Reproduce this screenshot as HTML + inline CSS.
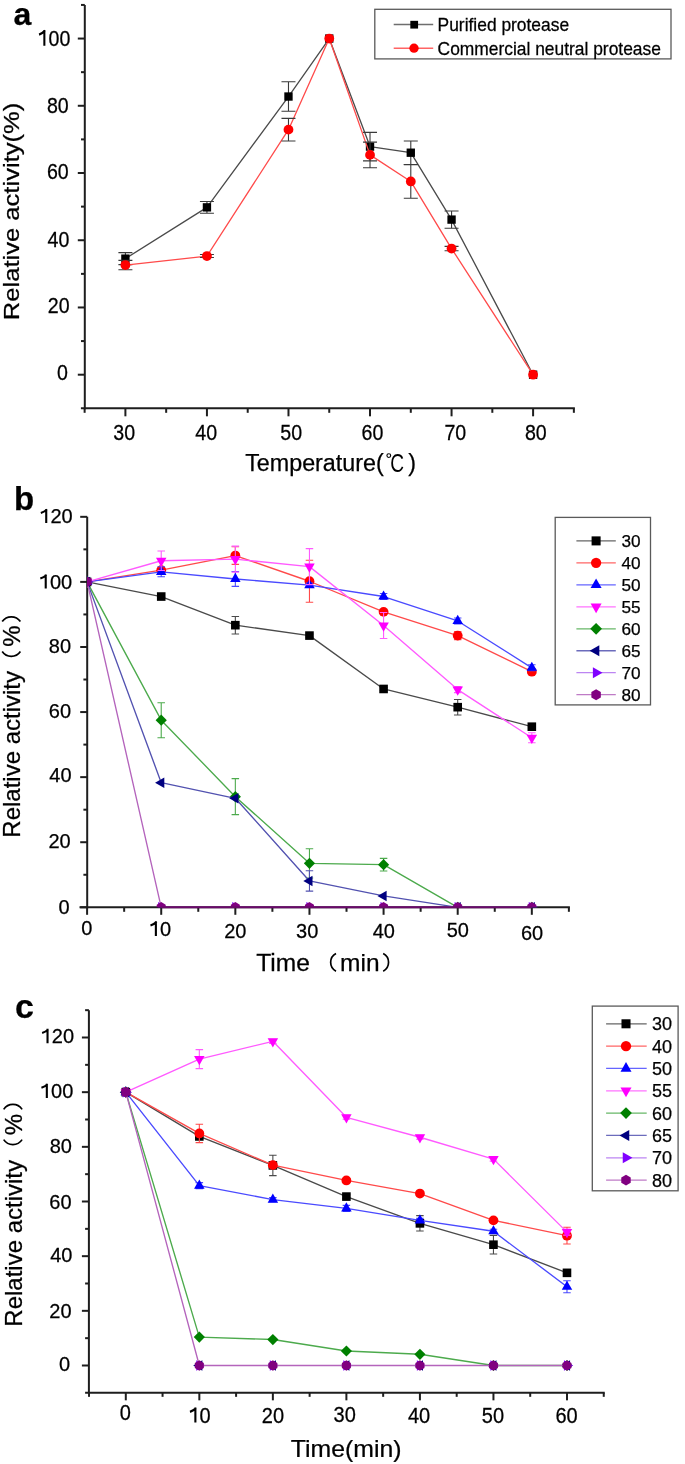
<!DOCTYPE html><html><head><meta charset="utf-8"><style>html,body{margin:0;padding:0;background:#fff;}svg{display:block;will-change:transform;}text{font-family:"Liberation Sans",sans-serif;fill:#000;stroke:#000;stroke-width:0.25px;}</style></head><body>
<svg width="685" height="1464" viewBox="0 0 685 1464">
<rect width="685" height="1464" fill="#fff"/>
<line x1="84.8" y1="4.94" x2="84.8" y2="409.31" stroke="#1e1e1e" stroke-width="2.0"/>
<line x1="80.9" y1="408.31" x2="574.87" y2="408.31" stroke="#1e1e1e" stroke-width="2.0"/>
<line x1="77.8" y1="374.7" x2="84.8" y2="374.7" stroke="#1e1e1e" stroke-width="2.0"/>
<line x1="81" y1="341.08" x2="84.8" y2="341.08" stroke="#1e1e1e" stroke-width="2.0"/>
<line x1="77.8" y1="307.47" x2="84.8" y2="307.47" stroke="#1e1e1e" stroke-width="2.0"/>
<line x1="81" y1="273.86" x2="84.8" y2="273.86" stroke="#1e1e1e" stroke-width="2.0"/>
<line x1="77.8" y1="240.24" x2="84.8" y2="240.24" stroke="#1e1e1e" stroke-width="2.0"/>
<line x1="81" y1="206.62" x2="84.8" y2="206.62" stroke="#1e1e1e" stroke-width="2.0"/>
<line x1="77.8" y1="173.01" x2="84.8" y2="173.01" stroke="#1e1e1e" stroke-width="2.0"/>
<line x1="81" y1="139.39" x2="84.8" y2="139.39" stroke="#1e1e1e" stroke-width="2.0"/>
<line x1="77.8" y1="105.78" x2="84.8" y2="105.78" stroke="#1e1e1e" stroke-width="2.0"/>
<line x1="81" y1="72.17" x2="84.8" y2="72.17" stroke="#1e1e1e" stroke-width="2.0"/>
<line x1="77.8" y1="38.55" x2="84.8" y2="38.55" stroke="#1e1e1e" stroke-width="2.0"/>
<line x1="81" y1="4.94" x2="84.8" y2="4.94" stroke="#1e1e1e" stroke-width="2.0"/>
<line x1="84.63" y1="408.31" x2="84.63" y2="412.81" stroke="#1e1e1e" stroke-width="2.0"/>
<line x1="125.4" y1="408.31" x2="125.4" y2="416.31" stroke="#1e1e1e" stroke-width="2.0"/>
<line x1="166.17" y1="408.31" x2="166.17" y2="412.81" stroke="#1e1e1e" stroke-width="2.0"/>
<line x1="206.94" y1="408.31" x2="206.94" y2="416.31" stroke="#1e1e1e" stroke-width="2.0"/>
<line x1="247.71" y1="408.31" x2="247.71" y2="412.81" stroke="#1e1e1e" stroke-width="2.0"/>
<line x1="288.48" y1="408.31" x2="288.48" y2="416.31" stroke="#1e1e1e" stroke-width="2.0"/>
<line x1="329.25" y1="408.31" x2="329.25" y2="412.81" stroke="#1e1e1e" stroke-width="2.0"/>
<line x1="370.02" y1="408.31" x2="370.02" y2="416.31" stroke="#1e1e1e" stroke-width="2.0"/>
<line x1="410.79" y1="408.31" x2="410.79" y2="412.81" stroke="#1e1e1e" stroke-width="2.0"/>
<line x1="451.56" y1="408.31" x2="451.56" y2="416.31" stroke="#1e1e1e" stroke-width="2.0"/>
<line x1="492.33" y1="408.31" x2="492.33" y2="412.81" stroke="#1e1e1e" stroke-width="2.0"/>
<line x1="533.1" y1="408.31" x2="533.1" y2="416.31" stroke="#1e1e1e" stroke-width="2.0"/>
<line x1="573.87" y1="408.31" x2="573.87" y2="412.81" stroke="#1e1e1e" stroke-width="2.0"/>
<g transform="translate(68,380.15) scale(0.98,1.12)"><text x="-11.12" y="0" font-size="20">0</text></g>
<g transform="translate(69.6,312.7) scale(0.98,1.12)"><text x="-22.25" y="0" font-size="20">2</text><text x="-11.12" y="0" font-size="20">0</text></g>
<g transform="translate(69.4,247.15) scale(0.98,1.12)"><text x="-22.25" y="0" font-size="20">4</text><text x="-11.12" y="0" font-size="20">0</text></g>
<g transform="translate(68.7,178.9) scale(0.98,1.12)"><text x="-22.25" y="0" font-size="20">6</text><text x="-11.12" y="0" font-size="20">0</text></g>
<g transform="translate(68.7,112.9) scale(0.98,1.12)"><text x="-22.25" y="0" font-size="20">8</text><text x="-11.12" y="0" font-size="20">0</text></g>
<g transform="translate(70.3,45.8) scale(0.98,1.12)"><path d="M-26.47,0V-14.1M-25.77,-13.5Q-28.27,-11.2 -31.87,-10" fill="none" stroke="#000" stroke-width="2.1" stroke-linecap="butt"/><text x="-22.25" y="0" font-size="20">0</text><text x="-11.12" y="0" font-size="20">0</text></g>
<g transform="translate(124.2,439.7) scale(0.98,1.12)"><text x="-11.12" y="0" font-size="20">3</text><text x="0" y="0" font-size="20">0</text></g>
<g transform="translate(206.2,439.7) scale(0.98,1.12)"><text x="-11.12" y="0" font-size="20">4</text><text x="0" y="0" font-size="20">0</text></g>
<g transform="translate(291.2,439.7) scale(0.98,1.12)"><text x="-11.12" y="0" font-size="20">5</text><text x="0" y="0" font-size="20">0</text></g>
<g transform="translate(372.5,439.7) scale(0.98,1.12)"><text x="-11.12" y="0" font-size="20">6</text><text x="0" y="0" font-size="20">0</text></g>
<g transform="translate(455.3,439.7) scale(0.98,1.12)"><text x="-11.12" y="0" font-size="20">7</text><text x="0" y="0" font-size="20">0</text></g>
<g transform="translate(535.8,439.7) scale(0.98,1.12)"><text x="-11.12" y="0" font-size="20">8</text><text x="0" y="0" font-size="20">0</text></g>
<text x="22.5" y="24.6" font-size="32" text-anchor="middle" font-weight="bold" >a</text>
<text transform="translate(18.6,320.2) rotate(-90)" font-size="22.3" textLength="217.5" lengthAdjust="spacingAndGlyphs">Relative activity(%)</text>
<text x="245.2" y="471" font-size="23.3">Temperature(</text>
<circle cx="388.8" cy="455.6" r="1.9" fill="none" stroke="#000" stroke-width="1.1"/>
<text transform="translate(390.2,471.5) scale(0.78,1.05)" font-size="24.5" text-anchor="start" font-weight="normal" style="stroke-width:0">C</text>
<text x="408.2" y="471" font-size="23.3" text-anchor="start" font-weight="normal" >)</text>
<g><polyline points="125.4,258.63 206.94,207.36 288.48,96.54 329.25,38.55 370.02,146.59 410.79,152.71 451.56,219.6 533.1,374.7" fill="none" stroke="#4a4a4a" stroke-width="1.3" stroke-linejoin="round"/><path d="M125.4 252.63V264.63M118.4 252.63H132.4M118.4 264.63H132.4" stroke="#3a3a3a" stroke-width="1.1" fill="none"/><path d="M206.94 201.51V213.21M199.94 201.51H213.94M199.94 213.21H213.94" stroke="#3a3a3a" stroke-width="1.1" fill="none"/><path d="M288.48 81.79V111.29M281.48 81.79H295.48M281.48 111.29H295.48" stroke="#3a3a3a" stroke-width="1.1" fill="none"/><path d="M370.02 132.34V160.84M363.02 132.34H377.02M363.02 160.84H377.02" stroke="#3a3a3a" stroke-width="1.1" fill="none"/><path d="M410.79 140.96V164.46M403.79 140.96H417.79M403.79 164.46H417.79" stroke="#3a3a3a" stroke-width="1.1" fill="none"/><path d="M451.56 211V228.2M444.56 211H458.56M444.56 228.2H458.56" stroke="#3a3a3a" stroke-width="1.1" fill="none"/><rect x="121.23" y="254.46" width="8.34" height="8.34" fill="#000000"/><rect x="202.77" y="203.19" width="8.34" height="8.34" fill="#000000"/><rect x="284.31" y="92.36" width="8.34" height="8.34" fill="#000000"/><rect x="325.08" y="34.38" width="8.34" height="8.34" fill="#000000"/><rect x="365.85" y="142.42" width="8.34" height="8.34" fill="#000000"/><rect x="406.62" y="148.54" width="8.34" height="8.34" fill="#000000"/><rect x="447.39" y="215.43" width="8.34" height="8.34" fill="#000000"/><rect x="528.93" y="370.53" width="8.34" height="8.34" fill="#000000"/></g>
<g><polyline points="125.4,265.05 206.94,256.04 288.48,129.65 329.25,38.55 370.02,154.89 410.79,181.45 451.56,248.54 533.1,374.7" fill="none" stroke="#ff4a4a" stroke-width="1.3" stroke-linejoin="round"/><path d="M125.4 260.35V269.75M118.4 260.35H132.4M118.4 269.75H132.4" stroke="#3a3a3a" stroke-width="1.1" fill="none"/><path d="M206.94 254.54V257.54M199.94 254.54H213.94M199.94 257.54H213.94" stroke="#3a3a3a" stroke-width="1.1" fill="none"/><path d="M288.48 118.35V140.95M281.48 118.35H295.48M281.48 140.95H295.48" stroke="#3a3a3a" stroke-width="1.1" fill="none"/><path d="M370.02 142.09V167.69M363.02 142.09H377.02M363.02 167.69H377.02" stroke="#3a3a3a" stroke-width="1.1" fill="none"/><path d="M410.79 164.6V198.3M403.79 164.6H417.79M403.79 198.3H417.79" stroke="#3a3a3a" stroke-width="1.1" fill="none"/><path d="M451.56 246.34V250.74M444.56 246.34H458.56M444.56 250.74H458.56" stroke="#3a3a3a" stroke-width="1.1" fill="none"/><circle cx="125.4" cy="265.05" r="4.9" fill="#ff0000"/><circle cx="206.94" cy="256.04" r="4.9" fill="#ff0000"/><circle cx="288.48" cy="129.65" r="4.9" fill="#ff0000"/><circle cx="329.25" cy="38.55" r="4.9" fill="#ff0000"/><circle cx="370.02" cy="154.89" r="4.9" fill="#ff0000"/><circle cx="410.79" cy="181.45" r="4.9" fill="#ff0000"/><circle cx="451.56" cy="248.54" r="4.9" fill="#ff0000"/><circle cx="533.1" cy="374.7" r="4.9" fill="#ff0000"/></g>
<rect x="374.8" y="9.3" width="296.2" height="49.6" fill="none" stroke="#5a5a5a" stroke-width="1.3"/>
<line x1="393.7" y1="24.5" x2="433.2" y2="24.5" stroke="#6e6e6e" stroke-width="1.5"/><rect x="410.33" y="20.83" width="7.74" height="7.74" fill="#000"/>
<line x1="393.7" y1="48.3" x2="433.2" y2="48.3" stroke="#ff6464" stroke-width="1.5"/><circle cx="414" cy="48.2" r="4.66" fill="#f00"/>
<text transform="translate(437.6,30.6) scale(1,1.1)" font-size="17.4" text-anchor="start" font-weight="normal" >Purified protease</text>
<text transform="translate(437.6,54.6) scale(1,1.1)" font-size="17.4" text-anchor="start" font-weight="normal" >Commercial neutral protease</text>
<line x1="87.2" y1="516.82" x2="87.2" y2="908.3" stroke="#1e1e1e" stroke-width="2.0"/>
<line x1="79.5" y1="907.3" x2="569.88" y2="907.3" stroke="#1e1e1e" stroke-width="2.0"/>
<line x1="80.2" y1="907.3" x2="87.2" y2="907.3" stroke="#1e1e1e" stroke-width="2.0"/>
<line x1="83.4" y1="874.76" x2="87.2" y2="874.76" stroke="#1e1e1e" stroke-width="2.0"/>
<line x1="80.2" y1="842.22" x2="87.2" y2="842.22" stroke="#1e1e1e" stroke-width="2.0"/>
<line x1="83.4" y1="809.68" x2="87.2" y2="809.68" stroke="#1e1e1e" stroke-width="2.0"/>
<line x1="80.2" y1="777.14" x2="87.2" y2="777.14" stroke="#1e1e1e" stroke-width="2.0"/>
<line x1="83.4" y1="744.6" x2="87.2" y2="744.6" stroke="#1e1e1e" stroke-width="2.0"/>
<line x1="80.2" y1="712.06" x2="87.2" y2="712.06" stroke="#1e1e1e" stroke-width="2.0"/>
<line x1="83.4" y1="679.52" x2="87.2" y2="679.52" stroke="#1e1e1e" stroke-width="2.0"/>
<line x1="80.2" y1="646.98" x2="87.2" y2="646.98" stroke="#1e1e1e" stroke-width="2.0"/>
<line x1="83.4" y1="614.44" x2="87.2" y2="614.44" stroke="#1e1e1e" stroke-width="2.0"/>
<line x1="80.2" y1="581.9" x2="87.2" y2="581.9" stroke="#1e1e1e" stroke-width="2.0"/>
<line x1="83.4" y1="549.36" x2="87.2" y2="549.36" stroke="#1e1e1e" stroke-width="2.0"/>
<line x1="80.2" y1="516.82" x2="87.2" y2="516.82" stroke="#1e1e1e" stroke-width="2.0"/>
<line x1="87.1" y1="907.3" x2="87.1" y2="914.8" stroke="#1e1e1e" stroke-width="2.0"/>
<line x1="124.16" y1="907.3" x2="124.16" y2="911.8" stroke="#1e1e1e" stroke-width="2.0"/>
<line x1="161.22" y1="907.3" x2="161.22" y2="914.8" stroke="#1e1e1e" stroke-width="2.0"/>
<line x1="198.28" y1="907.3" x2="198.28" y2="911.8" stroke="#1e1e1e" stroke-width="2.0"/>
<line x1="235.34" y1="907.3" x2="235.34" y2="914.8" stroke="#1e1e1e" stroke-width="2.0"/>
<line x1="272.4" y1="907.3" x2="272.4" y2="911.8" stroke="#1e1e1e" stroke-width="2.0"/>
<line x1="309.46" y1="907.3" x2="309.46" y2="914.8" stroke="#1e1e1e" stroke-width="2.0"/>
<line x1="346.52" y1="907.3" x2="346.52" y2="911.8" stroke="#1e1e1e" stroke-width="2.0"/>
<line x1="383.58" y1="907.3" x2="383.58" y2="914.8" stroke="#1e1e1e" stroke-width="2.0"/>
<line x1="420.64" y1="907.3" x2="420.64" y2="911.8" stroke="#1e1e1e" stroke-width="2.0"/>
<line x1="457.7" y1="907.3" x2="457.7" y2="914.8" stroke="#1e1e1e" stroke-width="2.0"/>
<line x1="494.76" y1="907.3" x2="494.76" y2="911.8" stroke="#1e1e1e" stroke-width="2.0"/>
<line x1="531.82" y1="907.3" x2="531.82" y2="914.8" stroke="#1e1e1e" stroke-width="2.0"/>
<line x1="568.88" y1="907.3" x2="568.88" y2="911.8" stroke="#1e1e1e" stroke-width="2.0"/>
<g transform="translate(69.6,913.7) scale(1,1)"><text x="-11.12" y="0" font-size="20">0</text></g>
<g transform="translate(70.7,847.52) scale(1,1)"><text x="-22.25" y="0" font-size="20">2</text><text x="-11.12" y="0" font-size="20">0</text></g>
<g transform="translate(71.6,782.24) scale(1,1)"><text x="-22.25" y="0" font-size="20">4</text><text x="-11.12" y="0" font-size="20">0</text></g>
<g transform="translate(71,718.26) scale(1,1)"><text x="-22.25" y="0" font-size="20">6</text><text x="-11.12" y="0" font-size="20">0</text></g>
<g transform="translate(71,652.98) scale(1,1)"><text x="-22.25" y="0" font-size="20">8</text><text x="-11.12" y="0" font-size="20">0</text></g>
<g transform="translate(72.2,588.55) scale(1,1)"><path d="M-26.47,0V-14.1M-25.77,-13.5Q-28.27,-11.2 -31.87,-10" fill="none" stroke="#000" stroke-width="2.1" stroke-linecap="butt"/><text x="-22.25" y="0" font-size="20">0</text><text x="-11.12" y="0" font-size="20">0</text></g>
<g transform="translate(72.7,523.02) scale(1,1)"><path d="M-26.47,0V-14.1M-25.77,-13.5Q-28.27,-11.2 -31.87,-10" fill="none" stroke="#000" stroke-width="2.1" stroke-linecap="butt"/><text x="-22.25" y="0" font-size="20">2</text><text x="-11.12" y="0" font-size="20">0</text></g>
<g transform="translate(86.9,934.6) scale(1,1.04)"><text x="-5.56" y="0" font-size="20">0</text></g>
<g transform="translate(160.1,935.9) scale(1,1.04)"><path d="M-4.22,0V-14.1M-3.52,-13.5Q-6.02,-11.2 -9.62,-10" fill="none" stroke="#000" stroke-width="2.1" stroke-linecap="butt"/><text x="0" y="0" font-size="20">0</text></g>
<g transform="translate(235.3,937.7) scale(1,1.04)"><text x="-11.12" y="0" font-size="20">2</text><text x="0" y="0" font-size="20">0</text></g>
<g transform="translate(307.2,937.5) scale(1,1.04)"><text x="-11.12" y="0" font-size="20">3</text><text x="0" y="0" font-size="20">0</text></g>
<g transform="translate(383.8,937.7) scale(1,1.04)"><text x="-11.12" y="0" font-size="20">4</text><text x="0" y="0" font-size="20">0</text></g>
<g transform="translate(457.8,937.4) scale(1,1.04)"><text x="-11.12" y="0" font-size="20">5</text><text x="0" y="0" font-size="20">0</text></g>
<g transform="translate(532,940) scale(1,1.04)"><text x="-11.12" y="0" font-size="20">6</text><text x="0" y="0" font-size="20">0</text></g>
<text x="24" y="509.8" font-size="33" text-anchor="middle" font-weight="bold" >b</text>
<g transform="translate(20.3,837.7) rotate(-90)" font-size="24"><text x="0" y="0">Relative activity</text><text x="190.9" y="0">%</text></g>
<path d="M2.2,651.6A11,11 0 0 0 20.4,651.6M2.2,621.6A11,11 0 0 1 20.4,621.6" fill="none" stroke="#000" stroke-width="1.7"/>
<text transform="translate(256.3,971) scale(1.052,1)" font-size="23.3">Time</text>
<text x="340.1" y="971" font-size="24.5">min</text>
<path d="M336,953.5A10,10 0 0 0 336,971.2M383.2,953.5A10,10 0 0 1 383.2,971.2" fill="none" stroke="#000" stroke-width="1.7"/>
<clipPath id="cb"><rect x="87" y="500" width="500" height="407.3"/></clipPath>
<g clip-path="url(#cb)"><polyline points="87.1,581.9 161.22,596.54 235.34,625.18 309.46,635.59 383.58,688.96 457.7,707.18 531.82,726.7" fill="none" stroke="#4a4a4a" stroke-width="1.35" stroke-linejoin="round"/><path d="M161.22 595.04V598.04M157.47 595.04H164.97M157.47 598.04H164.97" stroke="#4a4a4a" stroke-width="1.1" fill="none"/><path d="M235.34 616.43V633.93M231.59 616.43H239.09M231.59 633.93H239.09" stroke="#4a4a4a" stroke-width="1.1" fill="none"/><path d="M309.46 634.09V637.09M305.71 634.09H313.21M305.71 637.09H313.21" stroke="#4a4a4a" stroke-width="1.1" fill="none"/><path d="M383.58 687.46V690.46M379.83 687.46H387.33M379.83 690.46H387.33" stroke="#4a4a4a" stroke-width="1.1" fill="none"/><path d="M457.7 699.43V714.93M453.95 699.43H461.45M453.95 714.93H461.45" stroke="#4a4a4a" stroke-width="1.1" fill="none"/><path d="M531.82 723.7V729.7M528.07 723.7H535.57M528.07 729.7H535.57" stroke="#4a4a4a" stroke-width="1.1" fill="none"/><rect x="82.8" y="577.6" width="8.6" height="8.6" fill="#000000"/><rect x="156.92" y="592.24" width="8.6" height="8.6" fill="#000000"/><rect x="231.04" y="620.88" width="8.6" height="8.6" fill="#000000"/><rect x="305.16" y="631.29" width="8.6" height="8.6" fill="#000000"/><rect x="379.28" y="684.66" width="8.6" height="8.6" fill="#000000"/><rect x="453.4" y="702.88" width="8.6" height="8.6" fill="#000000"/><rect x="527.52" y="722.4" width="8.6" height="8.6" fill="#000000"/></g>
<g clip-path="url(#cb)"><polyline points="87.1,581.9 161.22,570.19 235.34,555.54 309.46,581.25 383.58,611.84 457.7,635.59 531.82,671.71" fill="none" stroke="#ff4a4a" stroke-width="1.35" stroke-linejoin="round"/><path d="M161.22 568.19V572.19M157.47 568.19H164.97M157.47 572.19H164.97" stroke="#ff4a4a" stroke-width="1.1" fill="none"/><path d="M235.34 546.74V564.34M231.59 546.74H239.09M231.59 564.34H239.09" stroke="#ff4a4a" stroke-width="1.1" fill="none"/><path d="M309.46 560.25V602.25M305.71 560.25H313.21M305.71 602.25H313.21" stroke="#ff4a4a" stroke-width="1.1" fill="none"/><path d="M383.58 609.84V613.84M379.83 609.84H387.33M379.83 613.84H387.33" stroke="#ff4a4a" stroke-width="1.1" fill="none"/><path d="M457.7 631.59V639.59M453.95 631.59H461.45M453.95 639.59H461.45" stroke="#ff4a4a" stroke-width="1.1" fill="none"/><path d="M531.82 669.71V673.71M528.07 669.71H535.57M528.07 673.71H535.57" stroke="#ff4a4a" stroke-width="1.1" fill="none"/><circle cx="87.1" cy="581.9" r="4.9" fill="#ff0000"/><circle cx="161.22" cy="570.19" r="4.9" fill="#ff0000"/><circle cx="235.34" cy="555.54" r="4.9" fill="#ff0000"/><circle cx="309.46" cy="581.25" r="4.9" fill="#ff0000"/><circle cx="383.58" cy="611.84" r="4.9" fill="#ff0000"/><circle cx="457.7" cy="635.59" r="4.9" fill="#ff0000"/><circle cx="531.82" cy="671.71" r="4.9" fill="#ff0000"/></g>
<g clip-path="url(#cb)"><polyline points="87.1,581.9 161.22,571.81 235.34,578.97 309.46,585.15 383.58,596.54 457.7,620.95 531.82,667.81" fill="none" stroke="#4a4aff" stroke-width="1.35" stroke-linejoin="round"/><path d="M161.22 566.81V576.81M157.47 566.81H164.97M157.47 576.81H164.97" stroke="#4a4aff" stroke-width="1.1" fill="none"/><path d="M235.34 571.57V586.37M231.59 571.57H239.09M231.59 586.37H239.09" stroke="#4a4aff" stroke-width="1.1" fill="none"/><path d="M309.46 583.15V587.15M305.71 583.15H313.21M305.71 587.15H313.21" stroke="#4a4aff" stroke-width="1.1" fill="none"/><path d="M383.58 593.54V599.54M379.83 593.54H387.33M379.83 599.54H387.33" stroke="#4a4aff" stroke-width="1.1" fill="none"/><path d="M457.7 617.95V623.95M453.95 617.95H461.45M453.95 623.95H461.45" stroke="#4a4aff" stroke-width="1.1" fill="none"/><path d="M531.82 664.81V670.81M528.07 664.81H535.57M528.07 670.81H535.57" stroke="#4a4aff" stroke-width="1.1" fill="none"/><polygon points="87.1,575.77 92.35,584.97 81.85,584.97" fill="#0000ff"/><polygon points="161.22,565.68 166.47,574.88 155.97,574.88" fill="#0000ff"/><polygon points="235.34,572.84 240.59,582.04 230.09,582.04" fill="#0000ff"/><polygon points="309.46,579.02 314.71,588.22 304.21,588.22" fill="#0000ff"/><polygon points="383.58,590.41 388.83,599.61 378.33,599.61" fill="#0000ff"/><polygon points="457.7,614.81 462.95,624.01 452.45,624.01" fill="#0000ff"/><polygon points="531.82,661.67 537.07,670.87 526.57,670.87" fill="#0000ff"/></g>
<g clip-path="url(#cb)"><polyline points="87.1,581.9 161.22,560.75 235.34,559.12 309.46,566.61 383.58,625.5 457.7,689.61 531.82,737.77" fill="none" stroke="#ff5aff" stroke-width="1.35" stroke-linejoin="round"/><path d="M161.22 551.05V570.45M157.47 551.05H164.97M157.47 570.45H164.97" stroke="#ff5aff" stroke-width="1.1" fill="none"/><path d="M235.34 546.12V572.12M231.59 546.12H239.09M231.59 572.12H239.09" stroke="#ff5aff" stroke-width="1.1" fill="none"/><path d="M309.46 548.61V584.61M305.71 548.61H313.21M305.71 584.61H313.21" stroke="#ff5aff" stroke-width="1.1" fill="none"/><path d="M383.58 612.5V638.5M379.83 612.5H387.33M379.83 638.5H387.33" stroke="#ff5aff" stroke-width="1.1" fill="none"/><path d="M457.7 686.61V692.61M453.95 686.61H461.45M453.95 692.61H461.45" stroke="#ff5aff" stroke-width="1.1" fill="none"/><path d="M531.82 732.77V742.77M528.07 732.77H535.57M528.07 742.77H535.57" stroke="#ff5aff" stroke-width="1.1" fill="none"/><polygon points="87.1,588.03 92.35,578.83 81.85,578.83" fill="#ff00ff"/><polygon points="161.22,566.88 166.47,557.68 155.97,557.68" fill="#ff00ff"/><polygon points="235.34,565.26 240.59,556.06 230.09,556.06" fill="#ff00ff"/><polygon points="309.46,572.74 314.71,563.54 304.21,563.54" fill="#ff00ff"/><polygon points="383.58,631.64 388.83,622.44 378.33,622.44" fill="#ff00ff"/><polygon points="457.7,695.74 462.95,686.54 452.45,686.54" fill="#ff00ff"/><polygon points="531.82,743.9 537.07,734.7 526.57,734.7" fill="#ff00ff"/></g>
<g clip-path="url(#cb)"><polyline points="87.1,581.9 161.22,720.19 235.34,796.66 309.46,863.37 383.58,864.67 457.7,907.3 531.82,907.3" fill="none" stroke="#4caa4c" stroke-width="1.35" stroke-linejoin="round"/><path d="M161.22 702.69V737.69M157.47 702.69H164.97M157.47 737.69H164.97" stroke="#4caa4c" stroke-width="1.1" fill="none"/><path d="M235.34 778.66V814.66M231.59 778.66H239.09M231.59 814.66H239.09" stroke="#4caa4c" stroke-width="1.1" fill="none"/><path d="M309.46 848.77V877.97M305.71 848.77H313.21M305.71 877.97H313.21" stroke="#4caa4c" stroke-width="1.1" fill="none"/><path d="M383.58 858.37V870.97M379.83 858.37H387.33M379.83 870.97H387.33" stroke="#4caa4c" stroke-width="1.1" fill="none"/><polygon points="87.1,576.3 92.7,581.9 87.1,587.5 81.5,581.9" fill="#008000"/><polygon points="161.22,714.59 166.82,720.19 161.22,725.79 155.62,720.19" fill="#008000"/><polygon points="235.34,791.06 240.94,796.66 235.34,802.26 229.74,796.66" fill="#008000"/><polygon points="309.46,857.77 315.06,863.37 309.46,868.97 303.86,863.37" fill="#008000"/><polygon points="383.58,859.07 389.18,864.67 383.58,870.27 377.98,864.67" fill="#008000"/><polygon points="457.7,901.7 463.3,907.3 457.7,912.9 452.1,907.3" fill="#008000"/><polygon points="531.82,901.7 537.42,907.3 531.82,912.9 526.22,907.3" fill="#008000"/></g>
<g clip-path="url(#cb)"><polyline points="87.1,581.9 161.22,782.67 235.34,798.29 309.46,880.94 383.58,895.91 457.7,907.3 531.82,907.3" fill="none" stroke="#5252b0" stroke-width="1.35" stroke-linejoin="round"/><path d="M309.46 870.74V891.14M305.71 870.74H313.21M305.71 891.14H313.21" stroke="#5252b0" stroke-width="1.1" fill="none"/><polygon points="80.97,581.9 90.17,576.65 90.17,587.15" fill="#000080"/><polygon points="155.09,782.67 164.29,777.42 164.29,787.92" fill="#000080"/><polygon points="229.21,798.29 238.41,793.04 238.41,803.54" fill="#000080"/><polygon points="303.33,880.94 312.53,875.69 312.53,886.19" fill="#000080"/><polygon points="377.45,895.91 386.65,890.66 386.65,901.16" fill="#000080"/><polygon points="451.57,907.3 460.77,902.05 460.77,912.55" fill="#000080"/><polygon points="525.69,907.3 534.89,902.05 534.89,912.55" fill="#000080"/></g>
<g clip-path="url(#cb)"><polygon points="93.23,581.9 84.03,576.65 84.03,587.15" fill="#8000ff"/><polygon points="167.35,907.3 158.15,902.05 158.15,912.55" fill="#8000ff"/><polygon points="241.47,907.3 232.27,902.05 232.27,912.55" fill="#8000ff"/><polygon points="315.59,907.3 306.39,902.05 306.39,912.55" fill="#8000ff"/><polygon points="389.71,907.3 380.51,902.05 380.51,912.55" fill="#8000ff"/><polygon points="463.83,907.3 454.63,902.05 454.63,912.55" fill="#8000ff"/><polygon points="537.95,907.3 528.75,902.05 528.75,912.55" fill="#8000ff"/></g>
<g clip-path="url(#cb)"><polyline points="87.1,581.9 161.22,907.3 235.34,907.3 309.46,907.3 383.58,907.3 457.7,907.3 531.82,907.3" fill="none" stroke="#b464bc" stroke-width="1.35" stroke-linejoin="round"/><polygon points="87.1,576.7 91.6,579.3 91.6,584.5 87.1,587.1 82.6,584.5 82.6,579.3" fill="#800080"/><polygon points="161.22,902.1 165.72,904.7 165.72,909.9 161.22,912.5 156.72,909.9 156.72,904.7" fill="#800080"/><polygon points="235.34,902.1 239.84,904.7 239.84,909.9 235.34,912.5 230.84,909.9 230.84,904.7" fill="#800080"/><polygon points="309.46,902.1 313.96,904.7 313.96,909.9 309.46,912.5 304.96,909.9 304.96,904.7" fill="#800080"/><polygon points="383.58,902.1 388.08,904.7 388.08,909.9 383.58,912.5 379.08,909.9 379.08,904.7" fill="#800080"/><polygon points="457.7,902.1 462.2,904.7 462.2,909.9 457.7,912.5 453.2,909.9 453.2,904.7" fill="#800080"/><polygon points="531.82,902.1 536.32,904.7 536.32,909.9 531.82,912.5 527.32,909.9 527.32,904.7" fill="#800080"/></g>
<line x1="161.22" y1="907.3" x2="531.82" y2="907.3" stroke="#6a0a6a" stroke-width="1.9"/>
<rect x="555.2" y="517.4" width="95.3" height="187.5" fill="none" stroke="#5a5a5a" stroke-width="1.3"/>
<line x1="576.4" y1="540.9" x2="615.8" y2="540.9" stroke="#4a4a4a" stroke-width="1.3" stroke-opacity="0.85"/>
<rect x="591.59" y="536.38" width="9.03" height="9.03" fill="#000000"/>
<text x="621.5" y="547.1" font-size="17.2" text-anchor="start" font-weight="normal" >30</text>
<line x1="576.4" y1="562.87" x2="615.8" y2="562.87" stroke="#ff4a4a" stroke-width="1.3" stroke-opacity="0.85"/>
<circle cx="596.1" cy="562.87" r="5.15" fill="#ff0000"/>
<text x="621.5" y="569.07" font-size="17.2" text-anchor="start" font-weight="normal" >40</text>
<line x1="576.4" y1="584.84" x2="615.8" y2="584.84" stroke="#4a4aff" stroke-width="1.3" stroke-opacity="0.85"/>
<polygon points="596.1,578.4 601.61,588.06 590.59,588.06" fill="#0000ff"/>
<text x="621.5" y="591.04" font-size="17.2" text-anchor="start" font-weight="normal" >50</text>
<line x1="576.4" y1="606.81" x2="615.8" y2="606.81" stroke="#ff5aff" stroke-width="1.3" stroke-opacity="0.85"/>
<polygon points="596.1,613.25 601.61,603.59 590.59,603.59" fill="#ff00ff"/>
<text x="621.5" y="613.01" font-size="17.2" text-anchor="start" font-weight="normal" >55</text>
<line x1="576.4" y1="628.78" x2="615.8" y2="628.78" stroke="#4caa4c" stroke-width="1.3" stroke-opacity="0.85"/>
<polygon points="596.1,622.9 601.98,628.78 596.1,634.66 590.22,628.78" fill="#008000"/>
<text x="621.5" y="634.98" font-size="17.2" text-anchor="start" font-weight="normal" >60</text>
<line x1="576.4" y1="650.75" x2="615.8" y2="650.75" stroke="#5252b0" stroke-width="1.3" stroke-opacity="0.85"/>
<polygon points="589.66,650.75 599.32,645.24 599.32,656.26" fill="#000080"/>
<text x="621.5" y="656.95" font-size="17.2" text-anchor="start" font-weight="normal" >65</text>
<line x1="576.4" y1="672.72" x2="615.8" y2="672.72" stroke="#b070f0" stroke-width="1.3" stroke-opacity="0.85"/>
<polygon points="602.54,672.72 592.88,667.21 592.88,678.23" fill="#8000ff"/>
<text x="621.5" y="678.92" font-size="17.2" text-anchor="start" font-weight="normal" >70</text>
<line x1="576.4" y1="694.69" x2="615.8" y2="694.69" stroke="#b464bc" stroke-width="1.3" stroke-opacity="0.85"/>
<polygon points="596.1,689.23 600.83,691.96 600.83,697.42 596.1,700.15 591.37,697.42 591.37,691.96" fill="#800080"/>
<text x="621.5" y="700.89" font-size="17.2" text-anchor="start" font-weight="normal" >80</text>
<line x1="88.9" y1="1010.17" x2="88.9" y2="1393.83" stroke="#1e1e1e" stroke-width="2.0"/>
<line x1="85.1" y1="1392.83" x2="604.75" y2="1392.83" stroke="#1e1e1e" stroke-width="2.0"/>
<line x1="81.9" y1="1365.5" x2="88.9" y2="1365.5" stroke="#1e1e1e" stroke-width="2.0"/>
<line x1="85.1" y1="1338.17" x2="88.9" y2="1338.17" stroke="#1e1e1e" stroke-width="2.0"/>
<line x1="81.9" y1="1310.83" x2="88.9" y2="1310.83" stroke="#1e1e1e" stroke-width="2.0"/>
<line x1="85.1" y1="1283.5" x2="88.9" y2="1283.5" stroke="#1e1e1e" stroke-width="2.0"/>
<line x1="81.9" y1="1256.17" x2="88.9" y2="1256.17" stroke="#1e1e1e" stroke-width="2.0"/>
<line x1="85.1" y1="1228.84" x2="88.9" y2="1228.84" stroke="#1e1e1e" stroke-width="2.0"/>
<line x1="81.9" y1="1201.5" x2="88.9" y2="1201.5" stroke="#1e1e1e" stroke-width="2.0"/>
<line x1="85.1" y1="1174.17" x2="88.9" y2="1174.17" stroke="#1e1e1e" stroke-width="2.0"/>
<line x1="81.9" y1="1146.84" x2="88.9" y2="1146.84" stroke="#1e1e1e" stroke-width="2.0"/>
<line x1="85.1" y1="1119.5" x2="88.9" y2="1119.5" stroke="#1e1e1e" stroke-width="2.0"/>
<line x1="81.9" y1="1092.17" x2="88.9" y2="1092.17" stroke="#1e1e1e" stroke-width="2.0"/>
<line x1="85.1" y1="1064.84" x2="88.9" y2="1064.84" stroke="#1e1e1e" stroke-width="2.0"/>
<line x1="81.9" y1="1037.5" x2="88.9" y2="1037.5" stroke="#1e1e1e" stroke-width="2.0"/>
<line x1="85.1" y1="1010.17" x2="88.9" y2="1010.17" stroke="#1e1e1e" stroke-width="2.0"/>
<line x1="89.03" y1="1392.83" x2="89.03" y2="1396.83" stroke="#1e1e1e" stroke-width="2.0"/>
<line x1="125.8" y1="1392.83" x2="125.8" y2="1400.33" stroke="#1e1e1e" stroke-width="2.0"/>
<line x1="162.56" y1="1392.83" x2="162.56" y2="1396.83" stroke="#1e1e1e" stroke-width="2.0"/>
<line x1="199.33" y1="1392.83" x2="199.33" y2="1400.33" stroke="#1e1e1e" stroke-width="2.0"/>
<line x1="236.09" y1="1392.83" x2="236.09" y2="1396.83" stroke="#1e1e1e" stroke-width="2.0"/>
<line x1="272.86" y1="1392.83" x2="272.86" y2="1400.33" stroke="#1e1e1e" stroke-width="2.0"/>
<line x1="309.62" y1="1392.83" x2="309.62" y2="1396.83" stroke="#1e1e1e" stroke-width="2.0"/>
<line x1="346.39" y1="1392.83" x2="346.39" y2="1400.33" stroke="#1e1e1e" stroke-width="2.0"/>
<line x1="383.16" y1="1392.83" x2="383.16" y2="1396.83" stroke="#1e1e1e" stroke-width="2.0"/>
<line x1="419.92" y1="1392.83" x2="419.92" y2="1400.33" stroke="#1e1e1e" stroke-width="2.0"/>
<line x1="456.69" y1="1392.83" x2="456.69" y2="1396.83" stroke="#1e1e1e" stroke-width="2.0"/>
<line x1="493.45" y1="1392.83" x2="493.45" y2="1400.33" stroke="#1e1e1e" stroke-width="2.0"/>
<line x1="530.21" y1="1392.83" x2="530.21" y2="1396.83" stroke="#1e1e1e" stroke-width="2.0"/>
<line x1="566.98" y1="1392.83" x2="566.98" y2="1400.33" stroke="#1e1e1e" stroke-width="2.0"/>
<line x1="603.75" y1="1392.83" x2="603.75" y2="1396.83" stroke="#1e1e1e" stroke-width="2.0"/>
<g transform="translate(70.1,1370.9) scale(1,1.02)"><text x="-11.12" y="0" font-size="20">0</text></g>
<g transform="translate(71.6,1317.53) scale(1,1.02)"><text x="-22.25" y="0" font-size="20">2</text><text x="-11.12" y="0" font-size="20">0</text></g>
<g transform="translate(72.4,1261.97) scale(1,1.02)"><text x="-22.25" y="0" font-size="20">4</text><text x="-11.12" y="0" font-size="20">0</text></g>
<g transform="translate(71.6,1208.6) scale(1,1.02)"><text x="-22.25" y="0" font-size="20">6</text><text x="-11.12" y="0" font-size="20">0</text></g>
<g transform="translate(71.9,1153.14) scale(1,1.02)"><text x="-22.25" y="0" font-size="20">8</text><text x="-11.12" y="0" font-size="20">0</text></g>
<g transform="translate(73.3,1098.02) scale(1,1.02)"><path d="M-26.47,0V-14.1M-25.77,-13.5Q-28.27,-11.2 -31.87,-10" fill="none" stroke="#000" stroke-width="2.1" stroke-linecap="butt"/><text x="-22.25" y="0" font-size="20">0</text><text x="-11.12" y="0" font-size="20">0</text></g>
<g transform="translate(74,1043.25) scale(1,1.02)"><path d="M-26.47,0V-14.1M-25.77,-13.5Q-28.27,-11.2 -31.87,-10" fill="none" stroke="#000" stroke-width="2.1" stroke-linecap="butt"/><text x="-22.25" y="0" font-size="20">2</text><text x="-11.12" y="0" font-size="20">0</text></g>
<g transform="translate(125.3,1420.2) scale(1,1.07)"><text x="-5.56" y="0" font-size="20">0</text></g>
<g transform="translate(199.6,1422.6) scale(1,1.07)"><path d="M-4.22,0V-14.1M-3.52,-13.5Q-6.02,-11.2 -9.62,-10" fill="none" stroke="#000" stroke-width="2.1" stroke-linecap="butt"/><text x="0" y="0" font-size="20">0</text></g>
<g transform="translate(272.9,1422.8) scale(1,1.07)"><text x="-11.12" y="0" font-size="20">2</text><text x="0" y="0" font-size="20">0</text></g>
<g transform="translate(344.7,1422.4) scale(1,1.07)"><text x="-11.12" y="0" font-size="20">3</text><text x="0" y="0" font-size="20">0</text></g>
<g transform="translate(419,1422.6) scale(1,1.07)"><text x="-11.12" y="0" font-size="20">4</text><text x="0" y="0" font-size="20">0</text></g>
<g transform="translate(492.9,1422.6) scale(1,1.07)"><text x="-11.12" y="0" font-size="20">5</text><text x="0" y="0" font-size="20">0</text></g>
<g transform="translate(566.6,1423) scale(1,1.07)"><text x="-11.12" y="0" font-size="20">6</text><text x="0" y="0" font-size="20">0</text></g>
<text x="24.5" y="1018.4" font-size="34" text-anchor="middle" font-weight="bold" >c</text>
<g transform="translate(22.1,1326.7) rotate(-90)" font-size="24"><text x="0" y="0">Relative activity</text><text x="191.5" y="0">%</text></g>
<path d="M3.7,1139.6A11,11 0 0 0 22.1,1139.6M3.7,1109.4A11,11 0 0 1 22.1,1109.4" fill="none" stroke="#000" stroke-width="1.7"/>
<text transform="translate(290.8,1456.5) scale(1.065,1)" font-size="23.3">Time(min)</text>
<g><polyline points="125.8,1092.17 199.33,1136.45 272.86,1165.42 346.39,1196.58 419.92,1223.37 493.45,1244.69 566.98,1272.84" fill="none" stroke="#4a4a4a" stroke-width="1.35" stroke-linejoin="round"/><path d="M199.33 1134.45V1138.45M195.58 1134.45H203.08M195.58 1138.45H203.08" stroke="#4a4a4a" stroke-width="1.1" fill="none"/><path d="M272.86 1155.22V1175.62M269.11 1155.22H276.61M269.11 1175.62H276.61" stroke="#4a4a4a" stroke-width="1.1" fill="none"/><path d="M346.39 1194.58V1198.58M342.64 1194.58H350.14M342.64 1198.58H350.14" stroke="#4a4a4a" stroke-width="1.1" fill="none"/><path d="M419.92 1215.67V1231.07M416.17 1215.67H423.67M416.17 1231.07H423.67" stroke="#4a4a4a" stroke-width="1.1" fill="none"/><path d="M493.45 1235.39V1253.99M489.7 1235.39H497.2M489.7 1253.99H497.2" stroke="#4a4a4a" stroke-width="1.1" fill="none"/><path d="M566.98 1270.84V1274.84M563.23 1270.84H570.73M563.23 1274.84H570.73" stroke="#4a4a4a" stroke-width="1.1" fill="none"/><rect x="121.5" y="1087.87" width="8.6" height="8.6" fill="#000000"/><rect x="195.03" y="1132.15" width="8.6" height="8.6" fill="#000000"/><rect x="268.56" y="1161.12" width="8.6" height="8.6" fill="#000000"/><rect x="342.09" y="1192.28" width="8.6" height="8.6" fill="#000000"/><rect x="415.62" y="1219.07" width="8.6" height="8.6" fill="#000000"/><rect x="489.15" y="1240.39" width="8.6" height="8.6" fill="#000000"/><rect x="562.68" y="1268.54" width="8.6" height="8.6" fill="#000000"/></g>
<g><polyline points="125.8,1092.17 199.33,1133.44 272.86,1165.15 346.39,1180.46 419.92,1193.58 493.45,1220.36 566.98,1235.67" fill="none" stroke="#ff4a4a" stroke-width="1.35" stroke-linejoin="round"/><path d="M199.33 1124.24V1142.64M195.58 1124.24H203.08M195.58 1142.64H203.08" stroke="#ff4a4a" stroke-width="1.1" fill="none"/><path d="M272.86 1163.15V1167.15M269.11 1163.15H276.61M269.11 1167.15H276.61" stroke="#ff4a4a" stroke-width="1.1" fill="none"/><path d="M346.39 1178.46V1182.46M342.64 1178.46H350.14M342.64 1182.46H350.14" stroke="#ff4a4a" stroke-width="1.1" fill="none"/><path d="M419.92 1191.58V1195.58M416.17 1191.58H423.67M416.17 1195.58H423.67" stroke="#ff4a4a" stroke-width="1.1" fill="none"/><path d="M493.45 1218.36V1222.36M489.7 1218.36H497.2M489.7 1222.36H497.2" stroke="#ff4a4a" stroke-width="1.1" fill="none"/><path d="M566.98 1227.27V1244.07M563.23 1227.27H570.73M563.23 1244.07H570.73" stroke="#ff4a4a" stroke-width="1.1" fill="none"/><circle cx="125.8" cy="1092.17" r="4.9" fill="#ff0000"/><circle cx="199.33" cy="1133.44" r="4.9" fill="#ff0000"/><circle cx="272.86" cy="1165.15" r="4.9" fill="#ff0000"/><circle cx="346.39" cy="1180.46" r="4.9" fill="#ff0000"/><circle cx="419.92" cy="1193.58" r="4.9" fill="#ff0000"/><circle cx="493.45" cy="1220.36" r="4.9" fill="#ff0000"/><circle cx="566.98" cy="1235.67" r="4.9" fill="#ff0000"/></g>
<g><polyline points="125.8,1092.17 199.33,1185.65 272.86,1199.59 346.39,1208.34 419.92,1220.36 493.45,1231.29 566.98,1286.78" fill="none" stroke="#4a4aff" stroke-width="1.35" stroke-linejoin="round"/><path d="M199.33 1182.65V1188.65M195.58 1182.65H203.08M195.58 1188.65H203.08" stroke="#4a4aff" stroke-width="1.1" fill="none"/><path d="M272.86 1197.59V1201.59M269.11 1197.59H276.61M269.11 1201.59H276.61" stroke="#4a4aff" stroke-width="1.1" fill="none"/><path d="M346.39 1205.34V1211.34M342.64 1205.34H350.14M342.64 1211.34H350.14" stroke="#4a4aff" stroke-width="1.1" fill="none"/><path d="M419.92 1218.36V1222.36M416.17 1218.36H423.67M416.17 1222.36H423.67" stroke="#4a4aff" stroke-width="1.1" fill="none"/><path d="M493.45 1229.29V1233.29M489.7 1229.29H497.2M489.7 1233.29H497.2" stroke="#4a4aff" stroke-width="1.1" fill="none"/><path d="M566.98 1280.78V1292.78M563.23 1280.78H570.73M563.23 1292.78H570.73" stroke="#4a4aff" stroke-width="1.1" fill="none"/><polygon points="125.8,1086.04 131.05,1095.24 120.55,1095.24" fill="#0000ff"/><polygon points="199.33,1179.52 204.58,1188.72 194.08,1188.72" fill="#0000ff"/><polygon points="272.86,1193.46 278.11,1202.66 267.61,1202.66" fill="#0000ff"/><polygon points="346.39,1202.2 351.64,1211.4 341.14,1211.4" fill="#0000ff"/><polygon points="419.92,1214.23 425.17,1223.43 414.67,1223.43" fill="#0000ff"/><polygon points="493.45,1225.16 498.7,1234.36 488.2,1234.36" fill="#0000ff"/><polygon points="566.98,1280.65 572.23,1289.85 561.73,1289.85" fill="#0000ff"/></g>
<g><polyline points="125.8,1092.17 199.33,1059.1 272.86,1041.33 346.39,1117.32 419.92,1137.27 493.45,1159.14 566.98,1232.11" fill="none" stroke="#ff5aff" stroke-width="1.35" stroke-linejoin="round"/><path d="M199.33 1049.6V1068.6M195.58 1049.6H203.08M195.58 1068.6H203.08" stroke="#ff5aff" stroke-width="1.1" fill="none"/><path d="M272.86 1039.33V1043.33M269.11 1039.33H276.61M269.11 1043.33H276.61" stroke="#ff5aff" stroke-width="1.1" fill="none"/><path d="M346.39 1115.32V1119.32M342.64 1115.32H350.14M342.64 1119.32H350.14" stroke="#ff5aff" stroke-width="1.1" fill="none"/><path d="M419.92 1135.27V1139.27M416.17 1135.27H423.67M416.17 1139.27H423.67" stroke="#ff5aff" stroke-width="1.1" fill="none"/><path d="M493.45 1157.14V1161.14M489.7 1157.14H497.2M489.7 1161.14H497.2" stroke="#ff5aff" stroke-width="1.1" fill="none"/><path d="M566.98 1229.11V1235.11M563.23 1229.11H570.73M563.23 1235.11H570.73" stroke="#ff5aff" stroke-width="1.1" fill="none"/><polygon points="125.8,1098.3 131.05,1089.1 120.55,1089.1" fill="#ff00ff"/><polygon points="199.33,1065.23 204.58,1056.03 194.08,1056.03" fill="#ff00ff"/><polygon points="272.86,1047.46 278.11,1038.26 267.61,1038.26" fill="#ff00ff"/><polygon points="346.39,1123.45 351.64,1114.25 341.14,1114.25" fill="#ff00ff"/><polygon points="419.92,1143.4 425.17,1134.2 414.67,1134.2" fill="#ff00ff"/><polygon points="493.45,1165.27 498.7,1156.07 488.2,1156.07" fill="#ff00ff"/><polygon points="566.98,1238.25 572.23,1229.05 561.73,1229.05" fill="#ff00ff"/></g>
<g><polyline points="125.8,1092.17 199.33,1337.07 272.86,1339.53 346.39,1351.01 419.92,1354.29 493.45,1365.5 566.98,1365.5" fill="none" stroke="#4caa4c" stroke-width="1.35" stroke-linejoin="round"/><polygon points="125.8,1086.57 131.4,1092.17 125.8,1097.77 120.2,1092.17" fill="#008000"/><polygon points="199.33,1331.47 204.93,1337.07 199.33,1342.67 193.73,1337.07" fill="#008000"/><polygon points="272.86,1333.93 278.46,1339.53 272.86,1345.13 267.26,1339.53" fill="#008000"/><polygon points="346.39,1345.41 351.99,1351.01 346.39,1356.61 340.79,1351.01" fill="#008000"/><polygon points="419.92,1348.69 425.52,1354.29 419.92,1359.89 414.32,1354.29" fill="#008000"/><polygon points="493.45,1359.9 499.05,1365.5 493.45,1371.1 487.85,1365.5" fill="#008000"/><polygon points="566.98,1359.9 572.58,1365.5 566.98,1371.1 561.38,1365.5" fill="#008000"/></g>
<g><polygon points="119.67,1092.17 128.87,1086.92 128.87,1097.42" fill="#000080"/><polygon points="193.2,1365.5 202.4,1360.25 202.4,1370.75" fill="#000080"/><polygon points="266.73,1365.5 275.93,1360.25 275.93,1370.75" fill="#000080"/><polygon points="340.26,1365.5 349.46,1360.25 349.46,1370.75" fill="#000080"/><polygon points="413.79,1365.5 422.99,1360.25 422.99,1370.75" fill="#000080"/><polygon points="487.32,1365.5 496.52,1360.25 496.52,1370.75" fill="#000080"/><polygon points="560.85,1365.5 570.05,1360.25 570.05,1370.75" fill="#000080"/></g>
<g><polygon points="131.93,1092.17 122.73,1086.92 122.73,1097.42" fill="#8000ff"/><polygon points="205.46,1365.5 196.26,1360.25 196.26,1370.75" fill="#8000ff"/><polygon points="278.99,1365.5 269.79,1360.25 269.79,1370.75" fill="#8000ff"/><polygon points="352.52,1365.5 343.32,1360.25 343.32,1370.75" fill="#8000ff"/><polygon points="426.05,1365.5 416.85,1360.25 416.85,1370.75" fill="#8000ff"/><polygon points="499.58,1365.5 490.38,1360.25 490.38,1370.75" fill="#8000ff"/><polygon points="573.11,1365.5 563.91,1360.25 563.91,1370.75" fill="#8000ff"/></g>
<g><polyline points="125.8,1092.17 199.33,1365.5 272.86,1365.5 346.39,1365.5 419.92,1365.5 493.45,1365.5 566.98,1365.5" fill="none" stroke="#b464bc" stroke-width="1.35" stroke-linejoin="round"/><polygon points="125.8,1086.97 130.3,1089.57 130.3,1094.77 125.8,1097.37 121.3,1094.77 121.3,1089.57" fill="#800080"/><polygon points="199.33,1360.3 203.83,1362.9 203.83,1368.1 199.33,1370.7 194.83,1368.1 194.83,1362.9" fill="#800080"/><polygon points="272.86,1360.3 277.36,1362.9 277.36,1368.1 272.86,1370.7 268.36,1368.1 268.36,1362.9" fill="#800080"/><polygon points="346.39,1360.3 350.89,1362.9 350.89,1368.1 346.39,1370.7 341.89,1368.1 341.89,1362.9" fill="#800080"/><polygon points="419.92,1360.3 424.42,1362.9 424.42,1368.1 419.92,1370.7 415.42,1368.1 415.42,1362.9" fill="#800080"/><polygon points="493.45,1360.3 497.95,1362.9 497.95,1368.1 493.45,1370.7 488.95,1368.1 488.95,1362.9" fill="#800080"/><polygon points="566.98,1360.3 571.48,1362.9 571.48,1368.1 566.98,1370.7 562.48,1368.1 562.48,1362.9" fill="#800080"/></g>
<rect x="592.3" y="1006.1" width="85.8" height="184.7" fill="none" stroke="#5a5a5a" stroke-width="1.3"/>
<line x1="606.1" y1="1023.8" x2="646.7" y2="1023.8" stroke="#4a4a4a" stroke-width="1.3" stroke-opacity="0.85"/>
<rect x="621.49" y="1019.28" width="9.03" height="9.03" fill="#000000"/>
<text x="652" y="1030.3" font-size="18" text-anchor="start" font-weight="normal" >30</text>
<line x1="606.1" y1="1046.13" x2="646.7" y2="1046.13" stroke="#ff4a4a" stroke-width="1.3" stroke-opacity="0.85"/>
<circle cx="626" cy="1046.13" r="5.15" fill="#ff0000"/>
<text x="652" y="1052.63" font-size="18" text-anchor="start" font-weight="normal" >40</text>
<line x1="606.1" y1="1068.46" x2="646.7" y2="1068.46" stroke="#4a4aff" stroke-width="1.3" stroke-opacity="0.85"/>
<polygon points="626,1062.02 631.51,1071.68 620.49,1071.68" fill="#0000ff"/>
<text x="652" y="1074.96" font-size="18" text-anchor="start" font-weight="normal" >50</text>
<line x1="606.1" y1="1090.79" x2="646.7" y2="1090.79" stroke="#ff5aff" stroke-width="1.3" stroke-opacity="0.85"/>
<polygon points="626,1097.23 631.51,1087.57 620.49,1087.57" fill="#ff00ff"/>
<text x="652" y="1097.29" font-size="18" text-anchor="start" font-weight="normal" >55</text>
<line x1="606.1" y1="1113.12" x2="646.7" y2="1113.12" stroke="#4caa4c" stroke-width="1.3" stroke-opacity="0.85"/>
<polygon points="626,1107.24 631.88,1113.12 626,1119 620.12,1113.12" fill="#008000"/>
<text x="652" y="1119.62" font-size="18" text-anchor="start" font-weight="normal" >60</text>
<line x1="606.1" y1="1135.45" x2="646.7" y2="1135.45" stroke="#5252b0" stroke-width="1.3" stroke-opacity="0.85"/>
<polygon points="619.56,1135.45 629.22,1129.94 629.22,1140.96" fill="#000080"/>
<text x="652" y="1141.95" font-size="18" text-anchor="start" font-weight="normal" >65</text>
<line x1="606.1" y1="1157.78" x2="646.7" y2="1157.78" stroke="#b070f0" stroke-width="1.3" stroke-opacity="0.85"/>
<polygon points="632.44,1157.78 622.78,1152.27 622.78,1163.29" fill="#8000ff"/>
<text x="652" y="1164.28" font-size="18" text-anchor="start" font-weight="normal" >70</text>
<line x1="606.1" y1="1180.11" x2="646.7" y2="1180.11" stroke="#b464bc" stroke-width="1.3" stroke-opacity="0.85"/>
<polygon points="626,1174.65 630.73,1177.38 630.73,1182.84 626,1185.57 621.27,1182.84 621.27,1177.38" fill="#800080"/>
<text x="652" y="1186.61" font-size="18" text-anchor="start" font-weight="normal" >80</text>
</svg></body></html>
